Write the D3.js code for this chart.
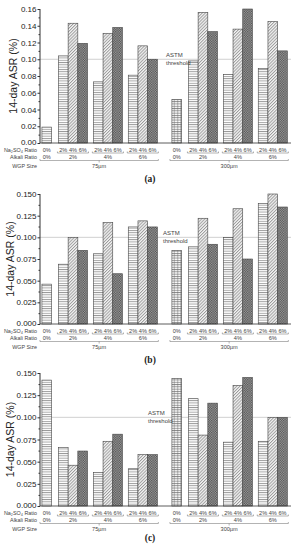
<!DOCTYPE html>
<html>
<head>
<meta charset="utf-8">
<script src="https://cdn.jsdelivr.net/npm/d3@7/dist/d3.min.js"></script>
<style>
  body { margin: 0; background: #fff; }
  svg { display: block; }
  text { font-family: "Liberation Sans", Arial, sans-serif; }
</style>
</head>
<body>
<svg id="chart" width="301" height="550"></svg>
<script>
// data: order per size = [0%, alk2%:(2,4,6), alk4%:(2,4,6), alk6%:(2,4,6)]
const naRatios = ["2%", "4%", "6%"];
const alkaliRatios = ["0%", "2%", "4%", "6%"];
const wgpSizes = ["75µm", "300µm"];

const asrA75  = [0.019, 0.104, 0.143, 0.119, 0.073, 0.131, 0.138, 0.081, 0.116, 0.100];
const asrA300 = [0.052, 0.098, 0.156, 0.133, 0.082, 0.136, 0.160, 0.089, 0.145, 0.110];
const asrB75  = [0.046, 0.069, 0.100, 0.085, 0.081, 0.117, 0.058, 0.112, 0.119, 0.112];
const asrB300 = [0.085, 0.089, 0.122, 0.092, 0.100, 0.133, 0.075, 0.139, 0.150, 0.135];
const asrC75  = [0.142, 0.066, 0.046, 0.062, 0.038, 0.073, 0.081, 0.042, 0.058, 0.058];
const asrC300 = [0.144, 0.121, 0.080, 0.116, 0.072, 0.136, 0.145, 0.073, 0.100, 0.100];

const yTicksA  = [0, 0.02, 0.04, 0.06, 0.08, 0.10, 0.12, 0.14, 0.16];
const yTicksBC = [0, 0.025, 0.05, 0.075, 0.10, 0.125, 0.15];
const threshold = 0.10;

const svg = d3.select("#chart");
const defs = svg.append("defs");

// fill patterns
const ph = defs.append("pattern").attr("id", "hlines")
    .attr("patternUnits", "userSpaceOnUse").attr("width", 4).attr("height", 2.3);
ph.append("rect").attr("width", 4).attr("height", 2.3).attr("fill", "#fff");
ph.append("line").attr("x1", 0).attr("x2", 4).attr("y1", 0.5).attr("y2", 0.5)
    .attr("stroke", "#6a6a6a").attr("stroke-width", 0.7);

const pg = defs.append("pattern").attr("id", "grid")
    .attr("patternUnits", "userSpaceOnUse").attr("width", 3.2).attr("height", 2.3);
pg.append("rect").attr("width", 3.2).attr("height", 2.3).attr("fill", "#fff");
pg.append("line").attr("x1", 0).attr("x2", 3.2).attr("y1", 0.5).attr("y2", 0.5)
    .attr("stroke", "#6a6a6a").attr("stroke-width", 0.7);
pg.append("line").attr("x1", 1.6).attr("x2", 1.6).attr("y1", 0).attr("y2", 2.3)
    .attr("stroke", "#6a6a6a").attr("stroke-width", 0.6);

const pd = defs.append("pattern").attr("id", "diag")
    .attr("patternUnits", "userSpaceOnUse").attr("width", 2.2).attr("height", 4)
    .attr("patternTransform", "rotate(45)");
pd.append("rect").attr("width", 2.2).attr("height", 4).attr("fill", "#f4f4f4");
pd.append("line").attr("x1", 0.5).attr("x2", 0.5).attr("y1", 0).attr("y2", 4)
    .attr("stroke", "#8c8c8c").attr("stroke-width", 0.8);

const pc = defs.append("pattern").attr("id", "checker")
    .attr("patternUnits", "userSpaceOnUse").attr("width", 2.4).attr("height", 2.4);
pc.append("rect").attr("width", 2.4).attr("height", 2.4).attr("fill", "#a2a2a2");
pc.append("rect").attr("width", 1.2).attr("height", 1.2).attr("fill", "#4c4c4c");
pc.append("rect").attr("x", 1.2).attr("y", 1.2).attr("width", 1.2).attr("height", 1.2).attr("fill", "#4c4c4c");

// build the bar list for one panel
function barsFor(v75, v300) {
    const out = [];
    [v75, v300].forEach((vals, s) => {
        out.push({ s, g: 0, k: 0, na: "0%", value: vals[0] });
        for (let g = 1; g <= 3; g++) {
            naRatios.forEach((na, k) => {
                out.push({ s, g, k, na, value: vals[1 + (g - 1) * 3 + k] });
            });
        }
    });
    return out;
}

// slot position in bar-width units
function unitPos(d) {
    return d.s * 13.4 + (d.g === 0 ? 0.2 : 1.9 + (d.g - 1) * 3.6 + d.k);
}

const x = d3.scaleLinear().domain([0, 26]).range([40, 40 + 26 * 9.7]);
const bw = x(1) - x(0);
const xEnd = 291;

function fillFor(d) {
    if (d.g === 0) return d.s === 0 ? "url(#hlines)" : "url(#grid)";
    return ["url(#hlines)", "url(#diag)", "url(#checker)"][d.k];
}

function drawPanel(opt) {
    const g = svg.append("g");
    const y = d3.scaleLinear().domain([0, opt.yMax]).range([opt.bottom, opt.top]);
    const data = barsFor(opt.v75, opt.v300);

    // threshold line
    g.append("line")
        .attr("x1", x(0)).attr("x2", xEnd)
        .attr("y1", y(threshold)).attr("y2", y(threshold))
        .attr("stroke", "#c4c4c4").attr("stroke-width", 0.8);

    g.selectAll("rect.bar").data(data).enter().append("rect")
        .attr("class", "bar")
        .attr("x", d => x(unitPos(d)))
        .attr("y", d => y(d.value))
        .attr("width", bw)
        .attr("height", d => opt.bottom - y(d.value))
        .attr("fill", fillFor)
        .attr("stroke", "#444").attr("stroke-width", 0.6);

    g.append("text").attr("x", opt.noteX).attr("y", y(threshold) - 2)
        .attr("font-size", 6).attr("fill", "#444").text("ASTM");
    g.append("text").attr("x", opt.noteX).attr("y", y(threshold) + 6)
        .attr("font-size", 6).attr("fill", "#444").text("threshold");

    // y axis
    const minor = opt.ticks.slice(1).map((t, i) => (t + opt.ticks[i]) / 2);
    g.append("g").attr("transform", `translate(${x(0)},0)`)
        .call(d3.axisLeft(y).tickValues(minor).tickSize(1.5).tickFormat(""))
        .call(a => a.select(".domain").remove())
        .selectAll("line").attr("stroke", "#333");
    const ya = g.append("g").attr("transform", `translate(${x(0)},0)`)
        .call(d3.axisLeft(y).tickValues(opt.ticks).tickSize(2.5).tickPadding(1).tickFormat(opt.fmt));
    ya.select(".domain").attr("stroke", "#333").attr("d", `M0,${opt.top}V${opt.bottom}`);
    ya.selectAll("line").attr("stroke", "#333");
    ya.selectAll("text").attr("font-size", 8).attr("fill", "#222")
        .style("font-family", "'Liberation Sans', Arial, sans-serif")
        .filter(d => d === 0).attr("dy", "0.15em");

    // x baseline
    g.append("line").attr("x1", x(0)).attr("x2", xEnd)
        .attr("y1", opt.bottom).attr("y2", opt.bottom)
        .attr("stroke", "#333").attr("stroke-width", 0.8);

    g.append("text")
        .attr("transform", `translate(${opt.titleX},${(opt.top + opt.bottom) / 2}) rotate(-90)`)
        .attr("text-anchor", "middle").attr("font-size", 10.5).attr("fill", "#222")
        .text("14-day ASR (%)");

    // multi-level category labels
    const r1 = opt.bottom + 7, r2 = opt.bottom + 14, r3 = opt.bottom + 23;
    const rowNames = ["Na\u2082SO\u2084 Ratio", "Alkali Ratio", "WGP Size"];
    [r1, r2, r3].forEach((ry, i) => {
        g.append("text").attr("x", 37).attr("y", ry).attr("dy", "0.35em")
            .attr("text-anchor", "end").attr("font-size", 5.4).attr("fill", "#444")
            .text(rowNames[i]);
    });

    g.selectAll("text.na").data(data).enter().append("text")
        .attr("x", d => x(unitPos(d) + 0.5)).attr("y", r1).attr("dy", "0.35em")
        .attr("text-anchor", "middle").attr("font-size", 5.6).attr("fill", "#444")
        .text(d => d.na);

    const lineCol = "#666";
    wgpSizes.forEach((size, s) => {
        const sb = data.filter(d => d.s === s);
        alkaliRatios.forEach((alk, gi) => {
            const gb = sb.filter(d => d.g === gi);
            const x0 = x(unitPos(gb[0])), x1 = x(unitPos(gb[gb.length - 1]) + 1);
            if (gi > 0) {
                g.append("path")
                    .attr("d", `M${x0 - 1},${r1 + 1.5}V${r1 + 3}H${x1 + 1}V${r1 + 1.5}`)
                    .attr("fill", "none").attr("stroke", lineCol).attr("stroke-width", 0.5);
            }
            g.append("text").attr("x", (x0 + x1) / 2).attr("y", r2).attr("dy", "0.35em")
                .attr("text-anchor", "middle").attr("font-size", 5.6).attr("fill", "#444")
                .text(alk);
        });
        const sx0 = x(unitPos(sb[0])) - 2, sx1 = x(unitPos(sb[sb.length - 1]) + 1) + 1;
        const mid = (sx0 + sx1) / 2;
        g.append("path")
            .attr("d", `M${sx0},${r2 + 2}V${r2 + 3.5}H${sx1}V${r2 + 2}M${mid},${r2 + 3.5}V${r2 + 5.5}`)
            .attr("fill", "none").attr("stroke", lineCol).attr("stroke-width", 0.5);
        g.append("text").attr("x", mid).attr("y", r3).attr("dy", "0.35em")
            .attr("text-anchor", "middle").attr("font-size", 5.6).attr("fill", "#444")
            .text(size);
    });

    svg.append("text").attr("x", 150).attr("y", opt.labelY).attr("dy", "0.35em")
        .attr("text-anchor", "middle").attr("font-size", 9.5).attr("font-weight", "bold")
        .style("font-family", "'Liberation Serif', 'DejaVu Serif', serif")
        .attr("fill", "#222").text(opt.label);
}

const fmt2 = d3.format(".2f");
const fmt3 = d3.format(".3f");

drawPanel({ top: 9, bottom: 143, yMax: 0.16, ticks: yTicksA, fmt: fmt2, titleX: 17,
            v75: asrA75, v300: asrA300, noteX: 166, label: "(a)", labelY: 179 });
drawPanel({ top: 194, bottom: 324, yMax: 0.15, ticks: yTicksBC, fmt: fmt3, titleX: 14,
            v75: asrB75, v300: asrB300, noteX: 163, label: "(b)", labelY: 360 });
drawPanel({ top: 373, bottom: 506, yMax: 0.15, ticks: yTicksBC, fmt: fmt3, titleX: 14,
            v75: asrC75, v300: asrC300, noteX: 148, label: "(c)", labelY: 538 });
</script>
</body>
</html>
